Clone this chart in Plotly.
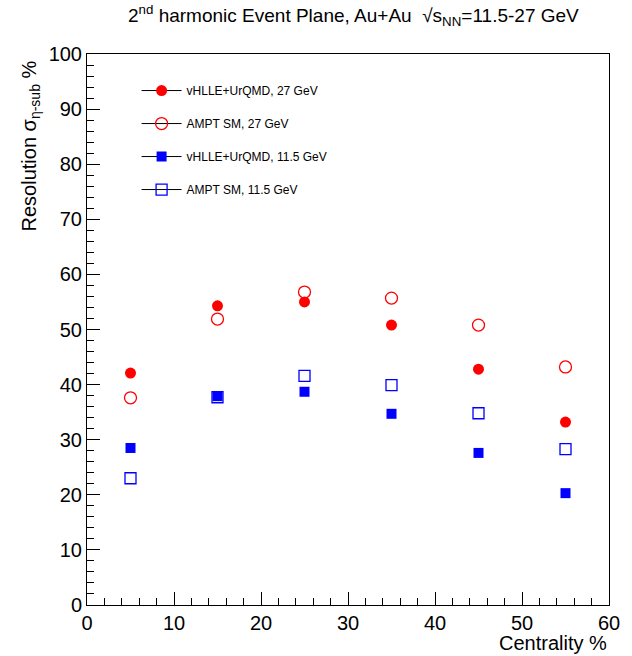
import plotly.graph_objects as go

centrality = [5, 15, 25, 35, 45, 55]
vhlle_27 = [42.1, 54.3, 55.0, 50.8, 42.8, 33.2]
ampt_27 = [37.6, 51.9, 56.8, 55.7, 50.8, 43.2]
vhlle_11 = [28.5, 37.9, 38.7, 34.7, 27.6, 20.3]
ampt_11 = [23.0, 37.7, 41.6, 39.9, 34.8, 28.3]

names = ["vHLLE+UrQMD, 27 GeV", "AMPT SM, 27 GeV", "vHLLE+UrQMD, 11.5 GeV", "AMPT SM, 11.5 GeV"]
FONT = "Liberation Sans, Arial, sans-serif"


def gapped(vals):
    out = []
    for i, v in enumerate(vals):
        if i:
            out.append(None)
        out.append(v)
    return out


series = [
    (vhlle_27, dict(symbol="circle", color="#ff0000", size=11)),
    (ampt_27, dict(symbol="circle-open", color="#ff0000", size=12, line=dict(width=1.3, color="#ff0000"))),
    (vhlle_11, dict(symbol="square", color="#0000ff", size=10)),
    (ampt_11, dict(symbol="square-open", color="#0000ff", size=11, line=dict(width=1.3, color="#0000ff"))),
]

fig = go.Figure()
for i, (vals, mk) in enumerate(series):
    fig.add_trace(go.Scatter(
        x=gapped(centrality), y=gapped(vals), mode="lines+markers",
        connectgaps=False, name=names[i], legendgroup=f"g{i}",
        marker=mk, line=dict(color="black", width=1),
    ))

axis_common = dict(
    showgrid=False, zeroline=False, showline=True, linecolor="black", linewidth=1,
    mirror=True, ticks="inside", ticklen=13, tickwidth=1, tickcolor="black",
    tickfont=dict(family=FONT, size=20, color="black"),
    minor=dict(ticks="inside", ticklen=7, dtick=2, tickcolor="black", tickwidth=1),
    dtick=10,
)

fig.update_xaxes(range=[0, 60], tick0=0, **axis_common)
fig.update_yaxes(range=[0, 100], tick0=0, **axis_common)

fig.update_layout(
    width=632, height=656,
    margin=dict(l=87, r=20, t=54, b=51),
    plot_bgcolor="white", paper_bgcolor="white",
    font=dict(family=FONT, color="black"),
    showlegend=True,
    legend=dict(x=0.095, y=0.96, xanchor="left", yanchor="top", itemwidth=40,
                bgcolor="rgba(0,0,0,0)", font=dict(family=FONT, size=12, color="black"),
                tracegroupgap=14),
    annotations=[
        dict(text="2<sup>nd</sup> harmonic Event Plane, Au+Au  \u221As<sub>NN</sub>=11.5-27 GeV",
             xref="paper", yref="paper", x=0.51, y=1.0, yshift=39, xanchor="center", yanchor="middle",
             showarrow=False, font=dict(family=FONT, size=19)),
        dict(text="Resolution \u03c3<sub>\u03b7-sub</sub> %", textangle=-90,
             xref="paper", yref="paper", x=0, xshift=-57, y=1.0, yshift=-5, xanchor="center", yanchor="top",
             showarrow=False, font=dict(family=FONT, size=20)),
        dict(text="Centrality %", xref="paper", yref="paper", x=1.0, y=0, yshift=-38,
             xanchor="right", yanchor="middle", showarrow=False, font=dict(family=FONT, size=20)),
    ],
)

fig.write_html("out.html")
